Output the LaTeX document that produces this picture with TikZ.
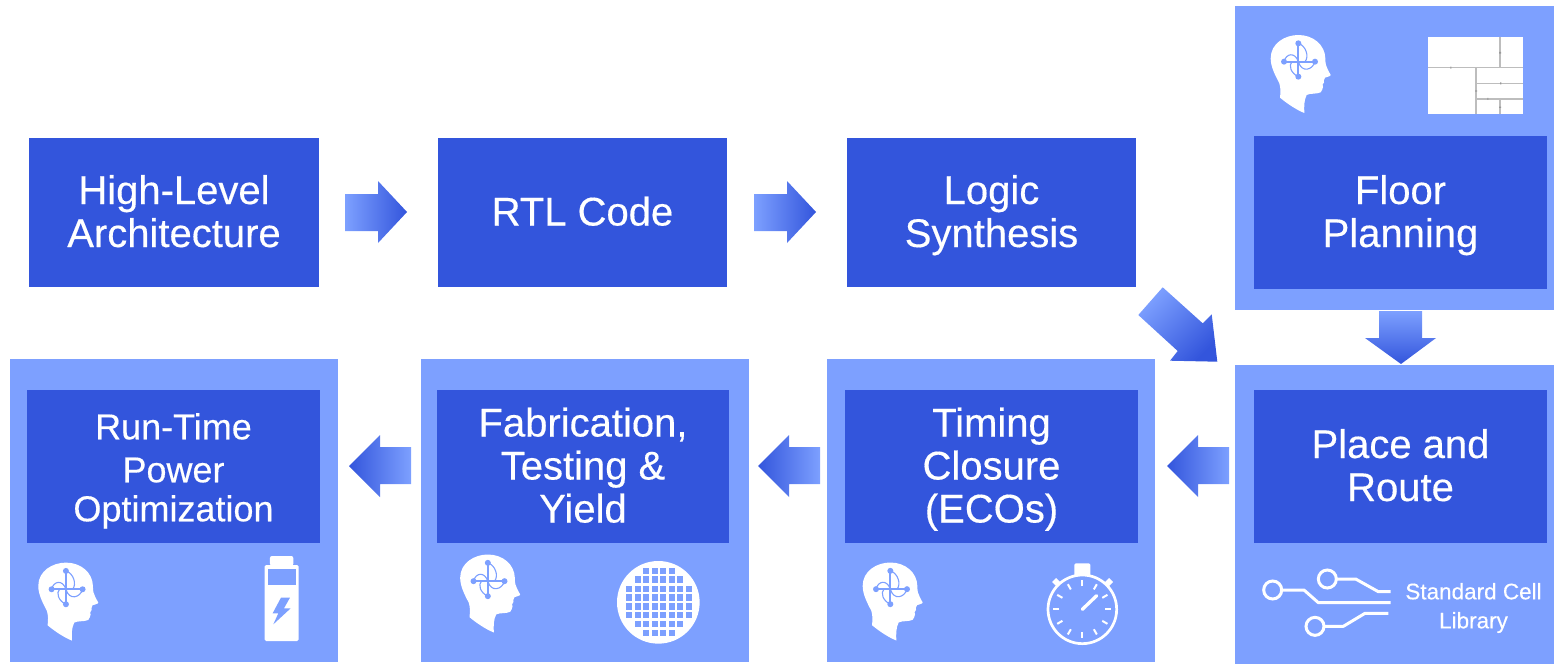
\documentclass[tikz,border=0pt]{standalone}
\usepackage{fontspec}
\setmainfont{Liberation Sans}[FakeBold=0.35]
\definecolor{darkb}{HTML}{3355DC}
\definecolor{lightb}{HTML}{7DA0FF}
\definecolor{gridg}{HTML}{BDBDBD}
\tikzset{
  panel/.style={fill=lightb,draw=none,inner sep=0pt,outer sep=0pt},
  stagebox/.style={fill=darkb,draw=none,text=white,align=center,inner sep=0pt,outer sep=0pt,
    font=\fontsize{40}{43}\selectfont},
  smallstage/.style={stagebox,font=\fontsize{36}{41}\selectfont},
  rarrow/.style={left color=lightb,right color=darkb,draw=none},
  larrow/.style={left color=darkb,right color=lightb,draw=none},
  wire/.style={draw=white,line width=3pt,line join=round},
  ring/.style={draw=white,line width=3pt,fill=none},
}
\newcommand\ls{\vrule width 0pt height 34.5pt depth 8.5pt\relax}
\newcommand\lss{\vrule width 0pt height 35pt depth 6pt\relax}
\newcommand\stage[7][stagebox]{%
  \node[#1,minimum width=#5pt-#3pt,minimum height=#6pt-#4pt,anchor=center]
    (#2) at ({(#3+#5)/2},{(#4+#6)/2}) {#7};}
\newcommand\panelbox[5]{%
  \node[panel,minimum width=#4pt-#2pt,minimum height=#5pt-#3pt,anchor=center]
    (#1) at ({(#2+#4)/2},{(#3+#5)/2}) {};}
\newcommand\headicon[2]{%
\begin{scope}[shift={(#1,#2)},x=0.3333pt,y=-0.3333pt]
  \fill[white] (133,264) .. controls (110,255) and (80,235) .. (60,218)
    .. controls (62,200) and (62,190) .. (58,175)
    .. controls (45,150) and (32,125) .. (32,100)
    .. controls (32,55) and (75,30) .. (115,30)
    .. controls (160,30) and (195,60) .. (196,100)
    .. controls (196,115) and (198,125) .. (203,133)
    -- (212,150) .. controls (212,154) and (200,156) .. (195,158)
    .. controls (192,165) and (190,168) .. (192,172)
    .. controls (186,176) and (188,182) .. (189,186)
    .. controls (186,190) and (188,198) .. (182,202)
    .. controls (170,208) and (150,204) .. (140,210)
    .. controls (132,225) and (132,245) .. (133,264) -- cycle;
  \begin{scope}[draw=lightb,line width=1.1pt]
    \draw (115,55) .. controls (138,62) and (148,95) .. (135,110);
    \draw (165,110) .. controls (158,135) and (125,145) .. (115,110);
    \draw (115,155) .. controls (92,145) and (85,120) .. (96,110);
    \draw (72,110) .. controls (78,85) and (105,80) .. (115,110);
    \draw[line width=2pt] (115,55) -- (115,155) (72,110) -- (165,110);
  \end{scope}
  \fill[lightb] (115,55) circle (9) (115,155) circle (9) (72,110) circle (9) (165,110) circle (9);
\end{scope}}
\begin{document}
\begin{tikzpicture}[x=1pt,y=-1pt]
\useasboundingbox (0,0) rectangle (1554,664);
% panels
\panelbox{floorpanel}{1235}{6}{1554}{310}
\panelbox{placepanel}{1235}{365}{1554}{664}
\panelbox{timingpanel}{827}{359}{1155}{662}
\panelbox{fabpanel}{421}{359}{749}{662}
\panelbox{runpanel}{10}{359}{338}{662}
% stages
\stage{hla}{29}{138}{319}{287}{\ls High-Level\\\ls Architecture}
\stage{rtl}{438}{138}{727}{287}{\ls RTL Code}
\stage{logic}{847}{138}{1136}{287}{\ls Logic\\\ls Synthesis}
\stage{floor}{1254}{136}{1547}{289}{\ls Floor\\\ls Planning}
\stage{place}{1254}{390}{1547}{543}{\ls Place and\\\ls Route}
\stage{timing}{845}{390}{1138}{543}{\ls Timing\\\ls Closure\\\ls (ECOs)}
\stage{fab}{437}{390}{729}{543}{\ls Fabrication,\\\ls Testing \&\\\ls Yield}
\stage[smallstage]{run}{27}{390}{320}{543}{\lss Run-Time\\[2pt]\lss Power\\[-2pt]\lss Optimization}
% block arrows
\foreach \ox in {345,754}
  \shade[rarrow] (\ox,194) -- ({\ox+33},194) -- ({\ox+33},181) -- ({\ox+62},212)
    -- ({\ox+33},243) -- ({\ox+33},231) -- (\ox,231) -- cycle;
\foreach \ox in {349,758,1167}
  \shade[larrow] ({\ox+62},447) -- ({\ox+31},447) -- ({\ox+31},435) -- (\ox,466)
    -- ({\ox+31},497) -- ({\ox+31},484) -- ({\ox+62},484) -- cycle;
\shade[top color=lightb,bottom color=darkb] (1379,311) -- (1422,311) -- (1422,338) -- (1436,338)
  -- (1401,364) -- (1365,338) -- (1379,338) -- cycle;
\shade[shading=axis,top color=lightb,bottom color=darkb,shading angle=45]
  (1162.7,287.3) -- (1138.3,315) -- (1177.7,351) -- (1170,360.7) -- (1217.3,361.7)
  -- (1211.7,314.3) -- (1202.7,323.3) -- cycle;
% heads
\headicon{1260}{25}
\headicon{27.6}{552.6}
\headicon{449.5}{544.5}
\headicon{852}{552.5}
% floorplan
\begin{scope}[shift={(1420,30)},x=0.3333pt,y=-0.3333pt]
  \fill[white] (25,22) rectangle (310,253);
  \draw[gridg,line width=1.6pt] (25,113) -- (310,113) (240,22) -- (240,113)
    (168,113) -- (168,253) (168,160) -- (310,160) (168,207) -- (310,207) (240,207) -- (240,253);
  \fill[gray!80] (237,66) rectangle (243,71) (91,110) rectangle (94,116) (240,157) rectangle (244,163)
    (165,181) rectangle (171,185) (202,204) rectangle (205,210) (237,230) rectangle (243,234);
\end{scope}
% circuit icon
\begin{scope}[shift={(1235,550)},x=0.3333pt,y=-0.3333pt]
  \draw[wire] (141,120) -- (207,120) -- (250,158) -- (467,158);
  \draw[wire] (305,87) -- (362,87) -- (430,125) -- (467,125);
  \draw[wire] (268,229) -- (325,229) -- (390,190) -- (460,190);
  \draw[ring] (113,120) circle (27) (277,87) circle (27) (240,229) circle (27);
\end{scope}
\node[text=white,font=\fontsize{22.5}{29}\selectfont,align=center] (cellib) at (1473.5,608) {Standard Cell\\Library};
% battery
\begin{scope}[shift={(0,545)},x=0.3333pt,y=-0.3333pt]
  \fill[white,rounded corners=2pt] (810,62) -- (810,33) -- (880,33) -- (880,62) -- cycle;
  \fill[white,rounded corners=1.5pt] (794,60) rectangle (896,288);
  \fill[lightb] (805,72) rectangle (887,120);
  \fill[lightb] (843,158) -- (870,158) -- (852,190) -- (872,190) -- (820,238) -- (835,205) -- (818,205) -- cycle;
\end{scope}
% wafer
\begin{scope}[shift={(590,545)},x=0.3333pt,y=-0.3333pt]
  \fill[white] (205,172) circle (124);
  \foreach \yy/\cols in {77/{168,194,219,245},103/{143,168,194,219,245,270},
      131/{117,143,168,194,219,245,270,296},157/{117,143,168,194,219,245,270,296},
      184/{117,143,168,194,219,245,270,296},210/{117,143,168,194,219,245,270,296},
      237/{143,168,194,219,245,270},264/{168,194,219,245}}
    \foreach \xx in \cols
      \fill[lightb] ({\xx-9.5},{\yy-9.5}) rectangle ({\xx+9.5},{\yy+9.5});
\end{scope}
% stopwatch
\begin{scope}[shift={(1030,550)},x=0.3333pt,y=-0.3333pt]
  \fill[white,rounded corners=1.5pt] (133,80) -- (133,40) -- (181,40) -- (181,80) -- cycle;
  \fill[white] (66,96) -- (78,84) -- (91,97) -- (79,109) -- cycle;
  \fill[white] (224,97) -- (237,84) -- (249,96) -- (236,109) -- cycle;
  \fill[lightb] (157,178) circle (103);
  \draw[white,line width=2.7pt] (157,178) circle (103);
  \foreach \a in {0,30,...,330}
    \draw[white,line width=2pt] ({157+69*cos(\a)},{178+69*sin(\a)}) -- ({157+87*cos(\a)},{178+87*sin(\a)});
  \draw[white,line width=3.3pt,line cap=round] (157,178) -- (200,137);
\end{scope}
\end{tikzpicture}
\end{document}
